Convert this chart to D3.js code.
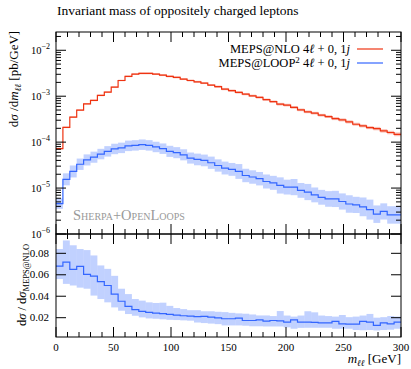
<!DOCTYPE html>
<html>
<head>
<meta charset="utf-8">
<script src="https://cdn.jsdelivr.net/npm/d3@7"></script>
<style>
  body { margin: 0; background: #fff; }
  svg { display: block; }
  text { font-family: "Liberation Serif", "DejaVu Serif", serif; fill: #000; }
</style>
</head>
<body>
<div id="chart"></div>
<script>
// bin edges in GeV (6 GeV bins)
const binEdges = [0, 6, 12, 18, 24, 30, 36, 42, 48, 54, 60, 66, 72, 78, 84, 90, 96, 102, 108, 114,
  120, 126, 132, 138, 144, 150, 156, 162, 168, 174, 180, 186, 192, 198, 204, 210, 216, 222, 228, 234,
  240, 246, 252, 258, 264, 270, 276, 282, 288, 294, 300];

// MEPS@NLO 4l+0,1j  [pb/GeV]
const nloValues = [7.2e-5, 2.1e-4, 3.5e-4, 5.0e-4, 6.8e-4, 8.1e-4, 1.04e-3, 1.23e-3, 1.58e-3, 2.2e-3,
  2.7e-3, 3.04e-3, 3.14e-3, 3.14e-3, 3.04e-3, 2.88e-3, 2.7e-3, 2.57e-3, 2.36e-3, 2.2e-3,
  2.06e-3, 1.93e-3, 1.75e-3, 1.61e-3, 1.43e-3, 1.32e-3, 1.21e-3, 1.11e-3, 1.02e-3, 9.4e-4,
  8.4e-4, 7.6e-4, 6.7e-4, 6.4e-4, 5.7e-4, 5.05e-4, 4.57e-4, 4.27e-4, 3.86e-4, 3.6e-4,
  3.26e-4, 3.05e-4, 2.76e-4, 2.45e-4, 2.26e-4, 2.07e-4, 1.97e-4, 1.76e-4, 1.62e-4, 1.48e-4];
// relative uncertainty of the NLO band
const nloUncert = [0.04, 0.04, 0.04, 0.04, 0.04, 0.04, 0.04, 0.04, 0.04, 0.04,
  0.04, 0.04, 0.05, 0.05, 0.05, 0.05, 0.05, 0.05, 0.05, 0.05,
  0.05, 0.05, 0.05, 0.06, 0.06, 0.06, 0.06, 0.06, 0.06, 0.06,
  0.06, 0.06, 0.07, 0.07, 0.07, 0.07, 0.07, 0.07, 0.07, 0.07,
  0.08, 0.08, 0.08, 0.08, 0.08, 0.08, 0.09, 0.09, 0.09, 0.1];

// MEPS@LOOP^2 4l+0,1j  [pb/GeV]
const loopValues = [4.6e-6, 1.55e-5, 2.3e-5, 3.3e-5, 4.1e-5, 4.7e-5, 5.5e-5, 6.3e-5, 7.1e-5, 7.5e-5,
  8.3e-5, 8.5e-5, 8.8e-5, 8.5e-5, 7.85e-5, 7.2e-5, 6.3e-5, 5.9e-5, 5.3e-5, 4.5e-5,
  4.2e-5, 4.0e-5, 3.56e-5, 3.1e-5, 2.73e-5, 2.55e-5, 2.3e-5, 1.88e-5, 1.74e-5, 1.6e-5,
  1.39e-5, 1.3e-5, 1.14e-5, 1.05e-5, 1.05e-5, 8.9e-6, 8.2e-6, 7.1e-6, 6.3e-6, 5.8e-6,
  5.8e-6, 5.1e-6, 4.5e-6, 4.3e-6, 3.9e-6, 3.4e-6, 2.7e-6, 3.1e-6, 2.6e-6, 2.6e-6];
// relative uncertainty of the LOOP^2 band
const loopUncert = [0.3, 0.35, 0.35, 0.33, 0.32, 0.32, 0.3, 0.3, 0.3, 0.3,
  0.3, 0.3, 0.3, 0.3, 0.3, 0.3, 0.32, 0.32, 0.32, 0.32,
  0.34, 0.34, 0.36, 0.36, 0.38, 0.38, 0.45, 0.4, 0.4, 0.4,
  0.42, 0.42, 0.5, 0.45, 0.5, 0.45, 0.5, 0.45, 0.45, 0.48,
  0.5, 0.5, 0.55, 0.5, 0.6, 0.65, 0.55, 0.5, 0.55, 0.55];

// ratio LOOP^2 / NLO
const ratioValues = [0.068, 0.0718, 0.065, 0.0678, 0.0603, 0.0587, 0.0537, 0.050, 0.042, 0.0353,
  0.0306, 0.0275, 0.0259, 0.025, 0.0243, 0.0237, 0.023, 0.0224, 0.0218, 0.0215,
  0.0209, 0.0212, 0.0205, 0.0198, 0.019, 0.019, 0.0195, 0.0174, 0.0174, 0.018,
  0.0168, 0.0174, 0.017, 0.0158, 0.018, 0.0158, 0.0158, 0.0156, 0.0152, 0.0152,
  0.0165, 0.0143, 0.014, 0.014, 0.0165, 0.0158, 0.0128, 0.0152, 0.0143, 0.0158];
const ratioLow = [0.056, 0.0515, 0.050, 0.048, 0.047, 0.0406, 0.0374, 0.0343, 0.0296, 0.0265,
  0.0234, 0.0218, 0.0203, 0.0193, 0.019, 0.0185, 0.018, 0.0178, 0.0175, 0.0172,
  0.0155, 0.015, 0.0145, 0.014, 0.0128, 0.0128, 0.0128, 0.0125, 0.012, 0.012,
  0.0118, 0.0118, 0.0118, 0.011, 0.0097, 0.0105, 0.0106, 0.0106, 0.0106, 0.0106,
  0.0097, 0.0097, 0.0097, 0.0085, 0.0083, 0.0085, 0.0081, 0.0085, 0.0088, 0.0097];
const ratioHigh = [0.084, 0.092, 0.0875, 0.084, 0.083, 0.078, 0.0687, 0.0655, 0.059, 0.047,
  0.042, 0.0374, 0.0359, 0.0343, 0.0337, 0.034, 0.031, 0.029, 0.028, 0.027,
  0.027, 0.026, 0.026, 0.0255, 0.0252, 0.0245, 0.024, 0.0237, 0.023, 0.0221,
  0.0221, 0.0215, 0.0262, 0.022, 0.021, 0.022, 0.026, 0.025, 0.022, 0.0215,
  0.021, 0.0225, 0.0205, 0.021, 0.022, 0.0235, 0.02, 0.0205, 0.0215, 0.021];

const xTicks = [0, 50, 100, 150, 200, 250, 300];
const ratioTicks = [0.02, 0.04, 0.06, 0.08];
const logTicks = [1e-6, 1e-5, 1e-4, 1e-3, 1e-2];

const W = 411, H = 369;
const box = { left: 56, right: 401, top: 32, mid: 234, bottom: 337 };
const RED = "#ee3311", BLUE = "#3366ff";
const MAJ = 10, MIN = 5;

const svg = d3.select("#chart").append("svg")
  .attr("width", W).attr("height", H);

const x = d3.scaleLinear().domain([0, 300]).range([box.left, box.right]);
const yMain = d3.scaleLog().domain([1e-6, 0.025]).range([box.mid, box.top]);
const yRatio = d3.scaleLinear().domain([0.002, 0.098]).range([box.bottom, box.mid]);

const bins = nloValues.map((v, i) => ({
  lo: binEdges[i], hi: binEdges[i + 1],
  nlo: v, nloErr: nloUncert[i],
  loop: loopValues[i], loopErr: loopUncert[i],
  r: ratioValues[i], rLo: ratioLow[i], rHi: ratioHigh[i]
}));

const defs = svg.append("defs");
defs.append("clipPath").attr("id", "clipMain").append("rect")
  .attr("x", box.left).attr("y", box.top)
  .attr("width", box.right - box.left).attr("height", box.mid - box.top);
defs.append("clipPath").attr("id", "clipRatio").append("rect")
  .attr("x", box.left).attr("y", box.mid)
  .attr("width", box.right - box.left).attr("height", box.bottom - box.mid);

function stepPath(yScale, key) {
  const pts = [];
  bins.forEach(b => { pts.push([b.lo, b[key]]); pts.push([b.hi, b[key]]); });
  return d3.line().x(d => x(d[0])).y(d => yScale(d[1]))(pts);
}

// ---- main panel
const gMain = svg.append("g").attr("clip-path", "url(#clipMain)");

gMain.selectAll(".nloBand").data(bins).enter().append("rect")
  .attr("x", d => x(d.lo)).attr("width", d => x(d.hi) - x(d.lo))
  .attr("y", d => yMain(d.nlo * (1 + d.nloErr)))
  .attr("height", d => yMain(d.nlo / (1 + d.nloErr)) - yMain(d.nlo * (1 + d.nloErr)))
  .attr("fill", RED).attr("fill-opacity", 0.3);

gMain.selectAll(".loopBand").data(bins).enter().append("rect")
  .attr("x", d => x(d.lo)).attr("width", d => x(d.hi) - x(d.lo))
  .attr("y", d => yMain(d.loop * (1 + d.loopErr)))
  .attr("height", d => yMain(d.loop / (1 + d.loopErr)) - yMain(d.loop * (1 + d.loopErr)))
  .attr("fill", BLUE).attr("fill-opacity", 0.3);

gMain.append("path").attr("d", stepPath(yMain, "nlo"))
  .attr("fill", "none").attr("stroke", RED).attr("stroke-width", 1.2);
gMain.append("path").attr("d", stepPath(yMain, "loop"))
  .attr("fill", "none").attr("stroke", BLUE).attr("stroke-width", 1.2);

// ---- ratio panel
const gRatio = svg.append("g").attr("clip-path", "url(#clipRatio)");
gRatio.selectAll(".rBand").data(bins).enter().append("rect")
  .attr("x", d => x(d.lo)).attr("width", d => x(d.hi) - x(d.lo))
  .attr("y", d => yRatio(d.rHi))
  .attr("height", d => yRatio(d.rLo) - yRatio(d.rHi))
  .attr("fill", BLUE).attr("fill-opacity", 0.3);
gRatio.append("path").attr("d", stepPath(yRatio, "r"))
  .attr("fill", "none").attr("stroke", BLUE).attr("stroke-width", 1.2);

// ---- ticks
const minorX = d3.range(0, 301, 10).filter(v => v % 50 !== 0);
function xTickRow(y0, dir) {
  const g = svg.append("g").attr("stroke", "#000").attr("stroke-width", 1);
  xTicks.forEach(v => g.append("line").attr("x1", x(v)).attr("x2", x(v)).attr("y1", y0).attr("y2", y0 + dir * MAJ));
  minorX.forEach(v => g.append("line").attr("x1", x(v)).attr("x2", x(v)).attr("y1", y0).attr("y2", y0 + dir * MIN));
}
xTickRow(box.top, 1);
xTickRow(box.mid, -1);
xTickRow(box.mid, 1);
xTickRow(box.bottom, -1);

// log y ticks on both sides
const logMinor = yMain.ticks().filter(v => logTicks.indexOf(v) < 0 && v >= 1e-6 && v <= 0.025);
[box.left, box.right].forEach((x0, k) => {
  const dir = k === 0 ? 1 : -1;
  const g = svg.append("g").attr("stroke", "#000").attr("stroke-width", 1);
  logTicks.forEach(v => g.append("line").attr("y1", yMain(v)).attr("y2", yMain(v)).attr("x1", x0).attr("x2", x0 + dir * MAJ));
  logMinor.forEach(v => g.append("line").attr("y1", yMain(v)).attr("y2", yMain(v)).attr("x1", x0).attr("x2", x0 + dir * MIN));
  ratioTicks.forEach(v => g.append("line").attr("y1", yRatio(v)).attr("y2", yRatio(v)).attr("x1", x0).attr("x2", x0 + dir * MAJ));
});

// frames
svg.append("rect").attr("x", box.left).attr("y", box.top)
  .attr("width", box.right - box.left).attr("height", box.mid - box.top)
  .attr("fill", "none").attr("stroke", "#000").attr("stroke-width", 1);
svg.append("rect").attr("x", box.left).attr("y", box.mid)
  .attr("width", box.right - box.left).attr("height", box.bottom - box.mid)
  .attr("fill", "none").attr("stroke", "#000").attr("stroke-width", 1);

// ---- tick labels
const logLab = svg.selectAll(".logLab").data(logTicks).enter().append("text")
  .attr("x", 50).attr("y", d => yMain(d) + 3.5)
  .attr("text-anchor", "end").style("font-size", "10.5px");
logLab.append("tspan").text("10");
logLab.append("tspan").attr("dy", -5).style("font-size", "8px")
  .text(d => "\u2212" + Math.round(-Math.log10(d)));

svg.selectAll(".rLab").data(ratioTicks).enter().append("text")
  .attr("x", 49).attr("y", d => yRatio(d) + 3.5)
  .attr("text-anchor", "end").style("font-size", "11px")
  .text(d => d.toFixed(2));

svg.selectAll(".xLab").data(xTicks).enter().append("text")
  .attr("x", d => x(d)).attr("y", 351)
  .attr("text-anchor", "middle").style("font-size", "11px")
  .text(d => d);

// ---- titles
svg.append("text").attr("x", 57).attr("y", 15).style("font-size", "13.5px")
  .text("Invariant mass of oppositely charged leptons");

const xt = svg.append("text").attr("x", 401).attr("y", 363).attr("text-anchor", "end").style("font-size", "13px");
xt.append("tspan").style("font-style", "italic").text("m");
xt.append("tspan").attr("dy", 2.5).style("font-size", "9px").style("font-style", "italic").text("\u2113\u2113");
xt.append("tspan").attr("dy", -2.5).text(" [GeV]");

const yt = svg.append("text").attr("transform", "translate(18,79) rotate(-90)")
  .attr("text-anchor", "middle").style("font-size", "13px");
yt.append("tspan").text("d");
yt.append("tspan").style("font-style", "italic").text("\u03c3");
yt.append("tspan").text(" /d");
yt.append("tspan").style("font-style", "italic").text("m");
yt.append("tspan").attr("dy", 2.5).style("font-size", "9px").style("font-style", "italic").text("\u2113\u2113");
yt.append("tspan").attr("dy", -2.5).text(" [pb/GeV]");

const rt = svg.append("text").attr("transform", "translate(26,285) rotate(-90)")
  .attr("text-anchor", "middle").style("font-size", "12.5px");
rt.append("tspan").text("d");
rt.append("tspan").style("font-style", "italic").text("\u03c3");
rt.append("tspan").text(" / d");
rt.append("tspan").style("font-style", "italic").text("\u03c3");
rt.append("tspan").attr("dy", 2.5).style("font-size", "8.5px").text("MEPS@NLO");

// ---- legend
const legend = [
  { label: "MEPS@NLO", sup: "", color: RED, y: 49 },
  { label: "MEPS@LOOP", sup: "2", color: BLUE, y: 63 }
];
legend.forEach(l => {
  const t = svg.append("text").attr("x", 350).attr("y", l.y + 4)
    .attr("text-anchor", "end").style("font-size", "12.5px");
  t.append("tspan").text(l.label);
  if (l.sup) t.append("tspan").attr("dy", -4).style("font-size", "9px").text(l.sup);
  t.append("tspan").attr("dy", l.sup ? 4 : 0).text(" 4");
  t.append("tspan").style("font-style", "italic").text("\u2113");
  t.append("tspan").text(" + 0, 1");
  t.append("tspan").style("font-style", "italic").text("j");
  svg.append("line").attr("x1", 357).attr("x2", 383).attr("y1", l.y).attr("y2", l.y)
    .attr("stroke", l.color).attr("stroke-width", 1.2);
});

svg.append("text").attr("x", 73).attr("y", 220)
  .style("font-size", "14.5px").style("font-variant", "small-caps").style("fill", "#999")
  .text("Sherpa+OpenLoops");
</script>
</body>
</html>
